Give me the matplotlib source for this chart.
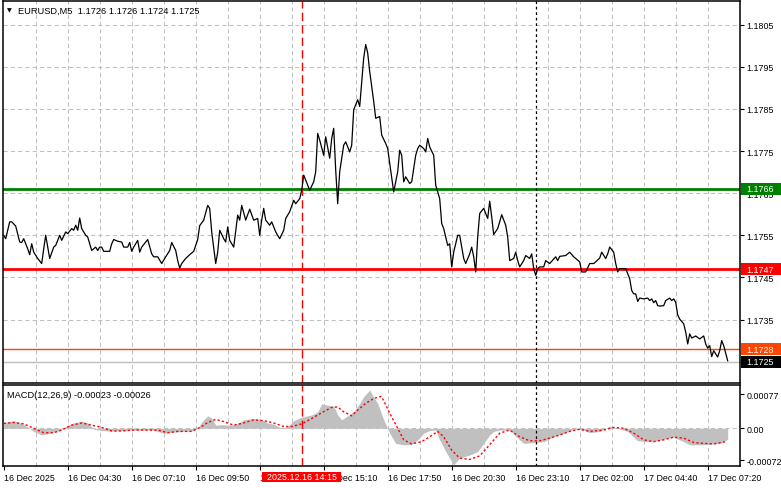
import numpy as np
import matplotlib
matplotlib.use('Agg')
import matplotlib.pyplot as plt
from matplotlib.patches import Rectangle
from matplotlib.transforms import blended_transform_factory

plt.rcParams['font.family'] = ['Liberation Sans', 'DejaVu Sans']

# (bar index, close), bar 0 = 16 Dec 01:50, M5 bars
close_points = [
    (0, 1.17550), (1, 1.17542), (3, 1.17582), (4, 1.17582), (6, 1.17572), (8, 1.17534), (9, 1.17533), (10, 1.17542), (12, 1.17518), (13, 1.17504),
    (14, 1.17530), (15, 1.17510), (17, 1.17495), (19, 1.17483), (20, 1.17518), (21, 1.17550), (23, 1.17495), (25, 1.17522), (26, 1.17526), (27, 1.17538),
    (28, 1.17550), (29, 1.17538), (31, 1.17558), (32, 1.17554), (34, 1.17566), (35, 1.17562), (36, 1.17574), (37, 1.17562), (38, 1.17591), (39, 1.17566),
    (41, 1.17550), (42, 1.17546), (43, 1.17530), (44, 1.17514), (46, 1.17522), (47, 1.17514), (48, 1.17522), (49, 1.17522), (50, 1.17512), (53, 1.17512),
    (54, 1.17530), (55, 1.17540), (57, 1.17536), (59, 1.17534), (60, 1.17522), (62, 1.17522), (63, 1.17533), (64, 1.17512), (65, 1.17522), (67, 1.17538),
    (68, 1.17510), (69, 1.17522), (71, 1.17534), (72, 1.17540), (74, 1.17506), (75, 1.17499), (77, 1.17499), (79, 1.17483), (81, 1.17499), (83, 1.17514),
    (84, 1.17533), (86, 1.17514), (87, 1.17490), (88, 1.17472), (89, 1.17483), (91, 1.17495), (93, 1.17504), (95, 1.17512), (97, 1.17540), (98, 1.17573),
    (100, 1.17586), (102, 1.17621), (103, 1.17614), (104, 1.17558), (106, 1.17483), (107, 1.17510), (108, 1.17562), (110, 1.17542), (111, 1.17534), (112, 1.17570),
    (113, 1.17538), (115, 1.17522), (117, 1.17598), (118, 1.17586), (119, 1.17621), (121, 1.17586), (123, 1.17612), (125, 1.17586), (127, 1.17590), (128, 1.17550),
    (129, 1.17586), (130, 1.17614), (131, 1.17586), (133, 1.17574), (134, 1.17582), (135, 1.17570), (136, 1.17558), (138, 1.17542), (140, 1.17562), (141, 1.17590),
    (143, 1.17606), (145, 1.17633), (146, 1.17625), (148, 1.17637), (149, 1.17657), (150, 1.17693), (152, 1.17669), (153, 1.17657), (155, 1.17677), (156, 1.17701),
    (157, 1.17792), (158, 1.17776), (160, 1.17740), (161, 1.17784), (163, 1.17733), (164, 1.17780), (165, 1.17804), (166, 1.17705), (167, 1.17625), (168, 1.17701),
    (170, 1.17764), (171, 1.17772), (173, 1.17748), (174, 1.17764), (175, 1.17848), (177, 1.17872), (178, 1.17856), (179, 1.17915), (180, 1.17971), (181, 1.18003),
    (182, 1.17983), (183, 1.17939), (185, 1.17868), (186, 1.17828), (188, 1.17832), (189, 1.17788), (191, 1.17768), (192, 1.17756), (193, 1.17721), (195, 1.17653),
    (197, 1.17701), (198, 1.17752), (199, 1.17740), (200, 1.17677), (201, 1.17689), (203, 1.17673), (204, 1.17677), (206, 1.17740), (207, 1.17756), (208, 1.17764),
    (210, 1.17756), (211, 1.17748), (212, 1.17780), (213, 1.17760), (215, 1.17740), (216, 1.17669), (218, 1.17637), (219, 1.17578), (220, 1.17566), (222, 1.17526),
    (223, 1.17530), (224, 1.17475), (225, 1.17510), (227, 1.17550), (228, 1.17550), (230, 1.17495), (231, 1.17483), (233, 1.17506), (234, 1.17522), (235, 1.17499),
    (236, 1.17463), (237, 1.17546), (238, 1.17602), (240, 1.17614), (242, 1.17590), (243, 1.17631), (244, 1.17594), (245, 1.17552), (247, 1.17566), (248, 1.17582),
    (249, 1.17599), (251, 1.17574), (252, 1.17546), (253, 1.17490), (255, 1.17495), (256, 1.17510), (257, 1.17490), (258, 1.17475), (260, 1.17490), (261, 1.17502),
    (263, 1.17495), (264, 1.17506), (265, 1.17471), (266, 1.17455), (267, 1.17471), (268, 1.17475), (270, 1.17475), (271, 1.17490), (273, 1.17483), (276, 1.17499),
    (277, 1.17490), (278, 1.17500), (281, 1.17502), (283, 1.17510), (285, 1.17499), (286, 1.17495), (288, 1.17487), (289, 1.17463), (291, 1.17463), (293, 1.17483),
    (295, 1.17483), (296, 1.17487), (298, 1.17496), (299, 1.17510), (301, 1.17495), (302, 1.17506), (303, 1.17522), (305, 1.17510), (306, 1.17483), (307, 1.17463),
    (308, 1.17471), (311, 1.17471), (313, 1.17447), (314, 1.17419), (315, 1.17411), (316, 1.17411), (317, 1.17393), (318, 1.17401), (320, 1.17399), (322, 1.17401),
    (323, 1.17395), (324, 1.17399), (325, 1.17390), (326, 1.17395), (327, 1.17383), (328, 1.17382), (330, 1.17383), (331, 1.17395), (333, 1.17401), (334, 1.17395),
    (335, 1.17399), (336, 1.17391), (337, 1.17361), (338, 1.17351), (340, 1.17340), (341, 1.17320), (342, 1.17292), (343, 1.17316), (344, 1.17306), (346, 1.17311),
    (348, 1.17304), (350, 1.17311), (351, 1.17292), (352, 1.17282), (353, 1.17288), (354, 1.17262), (355, 1.17276), (357, 1.17261), (358, 1.17276), (359, 1.17300),
    (360, 1.17288), (362, 1.17252),
]

# macd main line (histogram) and signal, (bar, value)
macd_points = [
    (0, 0.00013), (5, 0.00017), (9, 0.00011), (12, 0.00003), (15, -0.00007), (19, -0.00015), (24, -0.00010), (28, -0.00005), (32, 0.00007), (35, 0.00012),
    (39, 0.00016), (42, 0.00012), (45, -0.00002), (49, -0.00005), (52, -0.00006), (55, -0.00006), (59, -0.00005), (65, -0.00004), (74, -0.00004), (77, -0.00007),
    (80, -0.00011), (84, -0.00009), (89, -0.00007), (94, -0.00006), (97, 0.0), (99, 0.00014), (102, 0.00028), (104, 0.00023), (106, 0.00007), (109, 0.00008),
    (114, 0.00007), (117, 0.00011), (120, 0.00019), (125, 0.00022), (129, 0.00019), (132, 0.00012), (135, 0.00009), (139, 0.0), (142, 0.00004), (145, 0.00017),
    (149, 0.00025), (154, 0.00030), (157, 0.00037), (159, 0.00055), (164, 0.00050), (165, 0.00050), (167, 0.00030), (169, 0.00019), (172, 0.00028), (175, 0.00037),
    (178, 0.00056), (180, 0.00071), (183, 0.00086), (185, 0.00070), (187, 0.00056), (190, 0.00019), (192, 0.0), (193, -0.00011), (196, -0.00034), (200, -0.00037),
    (204, -0.00037), (207, -0.00026), (210, -0.00011), (213, -0.00005), (216, -0.00004), (218, -0.00026), (221, -0.00052), (224, -0.00075), (225, -0.00082), (228, -0.00067),
    (233, -0.00060), (237, -0.00052), (240, -0.00034), (243, -0.00015), (245, -0.00007), (248, -0.00004), (253, -0.00004), (257, -0.00022), (260, -0.00034), (265, -0.00032),
    (270, -0.00030), (275, -0.00019), (280, -0.00011), (285, -0.00002), (290, -0.00004), (293, -0.00010), (298, -0.00007), (303, 0.00005), (307, 0.0), (312, -0.00007),
    (317, -0.00028), (322, -0.00030), (327, -0.00028), (332, -0.00022), (335, -0.00020), (340, -0.00030), (343, -0.00037), (348, -0.00037), (353, -0.00036), (358, -0.00034),
    (362, -0.00025),
]
signal_points = [
    (0, 0.00011), (5, 0.00013), (10, 0.00010), (15, 0.0), (20, -0.00010), (25, -0.00010), (29, -0.00004), (34, 0.00007), (39, 0.00012), (44, 0.00007),
    (49, 0.00002), (54, -0.00006), (59, -0.00006), (65, -0.00004), (72, -0.00004), (77, -0.00004), (82, -0.00010), (87, -0.00007), (94, -0.00007), (99, 0.00004),
    (102, 0.00013), (106, 0.00020), (110, 0.00015), (115, 0.00007), (120, 0.00012), (125, 0.00019), (130, 0.00017), (135, 0.00012), (140, 0.00004), (144, 0.00004),
    (149, 0.00010), (154, 0.00022), (159, 0.00035), (164, 0.00047), (167, 0.00048), (170, 0.00037), (174, 0.00028), (177, 0.00041), (181, 0.00056), (185, 0.00067),
    (188, 0.00071), (189, 0.00071), (193, 0.00034), (197, 0.0), (200, -0.00026), (204, -0.00035), (209, -0.00030), (213, -0.00019), (217, -0.00007), (220, -0.00019),
    (224, -0.00049), (228, -0.00067), (233, -0.00070), (238, -0.00062), (243, -0.00037), (248, -0.00011), (253, -0.00004), (258, -0.00019), (263, -0.00028), (268, -0.00028),
    (273, -0.00022), (278, -0.00015), (283, -0.00007), (288, -0.00002), (293, -0.00007), (300, -0.00004), (305, 0.00002), (310, 0.0), (315, -0.00011), (320, -0.00026),
    (325, -0.00030), (330, -0.00026), (335, -0.00020), (340, -0.00022), (345, -0.00032), (350, -0.00034), (355, -0.00035), (361, -0.00030),
]

time_labels = ['16 Dec 2025', '16 Dec 04:30', '16 Dec 07:10', '16 Dec 09:50', '16 Dec 12:30', '16 Dec 15:10',
               '16 Dec 17:50', '16 Dec 20:30', '16 Dec 23:10', '17 Dec 02:00', '17 Dec 04:40', '17 Dec 07:20']
price_ticks = [1.1725, 1.1735, 1.1745, 1.1755, 1.1765, 1.1775, 1.1785, 1.1795, 1.1805]
macd_ticks = [-0.00072, 0.0, 0.00077]
macd_tick_labels = ['-0.00072', '0.00', '0.00077']

# horizontal levels: price, colour, width, label box colour
level_prices = [1.1766, 1.1747, 1.1728, 1.1725]
level_colors = ['#008000', '#ff0000', '#ff4500', '#c0c0c0']
level_widths = [2.0, 2.0, 1.0, 1.0]
box_colors = ['#008000', '#ff0000', '#ff4500', '#000000']

marker_bar = 149        # 2025.12.16 14:15
marker_text = '2025.12.16 14:15'
day_sep_bar = 266       # 17 Dec 00:00

title_text = 'EURUSD,M5  1.1726 1.1726 1.1724 1.1725'
macd_title = 'MACD(12,26,9) -0.00023 -0.00026'

GRID = '#c0c0c0'
FS = 6.4

fig = plt.figure(figsize=(7.81, 4.89), dpi=100)
ax = fig.add_axes([0.00346, 0.21472, 0.94404, 0.78180])
ax2 = fig.add_axes([0.00346, 0.04438, 0.94404, 0.16626])

xlim = (-0.5, 368.15)
grid_bars = np.arange(16, 368, 16)

# ---- price panel
ax.set_xlim(*xlim)
ax.set_ylim(1.171993, 1.181071)
for p in price_ticks:
    ax.axhline(p, color=GRID, lw=0.75, ls=(0, (4, 3)), zorder=0)
for b in grid_bars:
    ax.axvline(b, color=GRID, lw=0.75, ls=(0, (4, 3)), zorder=0)

for price, col, lw in zip(level_prices, level_colors, level_widths):
    ax.axhline(price, color=col, lw=lw, zorder=1)

cb, cp = zip(*close_points)
ax.plot(cb, cp, color='black', lw=0.9, zorder=3)

ax.axvline(marker_bar, color='#ff0000', lw=1.0, ls=(0, (6, 3)), zorder=2)
ax.axvline(day_sep_bar, color='black', lw=0.9, ls=(0, (2.2, 2.2)), zorder=2)

ax.set_xticks([])
ax.yaxis.tick_right()
ax.set_yticks(price_ticks)
ax.set_yticklabels(['%.4f' % p for p in price_ticks])
ax.tick_params(axis='y', direction='out', length=3, width=0.8, labelsize=FS, pad=1.5)

# coloured price boxes on the right axis
tr = blended_transform_factory(ax.transAxes, ax.transData)
box_h = 12 / 42000.0
for price, col in zip(level_prices, box_colors):
    ax.add_patch(Rectangle((1.0015, price - box_h / 2), 0.07, box_h, transform=tr,
                           facecolor=col, edgecolor='none', clip_on=False, zorder=5))
    ax.text(1.0082, price, '%.4f' % price, transform=tr, ha='left', va='center',
            color='white', fontsize=FS, zorder=6, clip_on=False)

# ---- macd panel
ax2.set_xlim(*xlim)
ax2.set_ylim(-0.000854, 0.000973)
for b in grid_bars:
    ax2.axvline(b, color=GRID, lw=0.75, ls=(0, (4, 3)), zorder=0)
ax2.axhline(0, color=GRID, lw=0.75, ls=(0, (4, 3)), zorder=0)

mb, mv = zip(*macd_points)
ax2.fill_between(mb, 0, mv, color='#c0c0c0', lw=0, zorder=1)
sb, sv = zip(*signal_points)
ax2.plot(sb, sv, color='#ff0000', lw=1.0, ls=(0, (1.6, 1.6)), zorder=3)

ax2.axvline(marker_bar, color='#ff0000', lw=1.0, ls=(0, (6, 3)), zorder=2)
ax2.axvline(day_sep_bar, color='black', lw=0.9, ls=(0, (2.2, 2.2)), zorder=2)

ax2.yaxis.tick_right()
ax2.set_yticks(macd_ticks)
ax2.set_yticklabels(macd_tick_labels)
ax2.tick_params(axis='y', direction='out', length=3, width=0.8, labelsize=FS, pad=1.5)

ax2.set_xticks(np.arange(0, 32 * len(time_labels), 32))
ax2.set_xticklabels(time_labels)
for lbl in ax2.get_xticklabels():
    lbl.set_ha('left')
ax2.tick_params(axis='x', direction='out', length=3, width=0.8, labelsize=FS, pad=2.0)

# red time marker on the time axis
tr2 = blended_transform_factory(ax2.transData, ax2.transAxes)
ax2.add_patch(Rectangle((marker_bar - 19.75, -0.187), 39.5, 0.112, transform=tr2,
                        facecolor='#ff0000', edgecolor='none', clip_on=False, zorder=8))
ax2.text(marker_bar, -0.131, marker_text, transform=tr2, ha='center', va='center',
         color='white', fontsize=FS, zorder=9, clip_on=False)

for a in (ax, ax2):
    for s in a.spines.values():
        s.set_color('black')
        s.set_linewidth(1.1)

# panel titles
fig.text(0.0115, 1 - 11.0 / 489, '\u25bc', fontsize=4.5, family='DejaVu Sans', ha='center', va='center')
fig.text(18.3 / 781, 1 - 11.0 / 489, title_text, fontsize=6.7, ha='left', va='center')
fig.text(7.3 / 781, 1 - 395.7 / 489, macd_title, fontsize=6.7, ha='left', va='center')

fig.savefig('out.png', dpi=100, facecolor='white')
